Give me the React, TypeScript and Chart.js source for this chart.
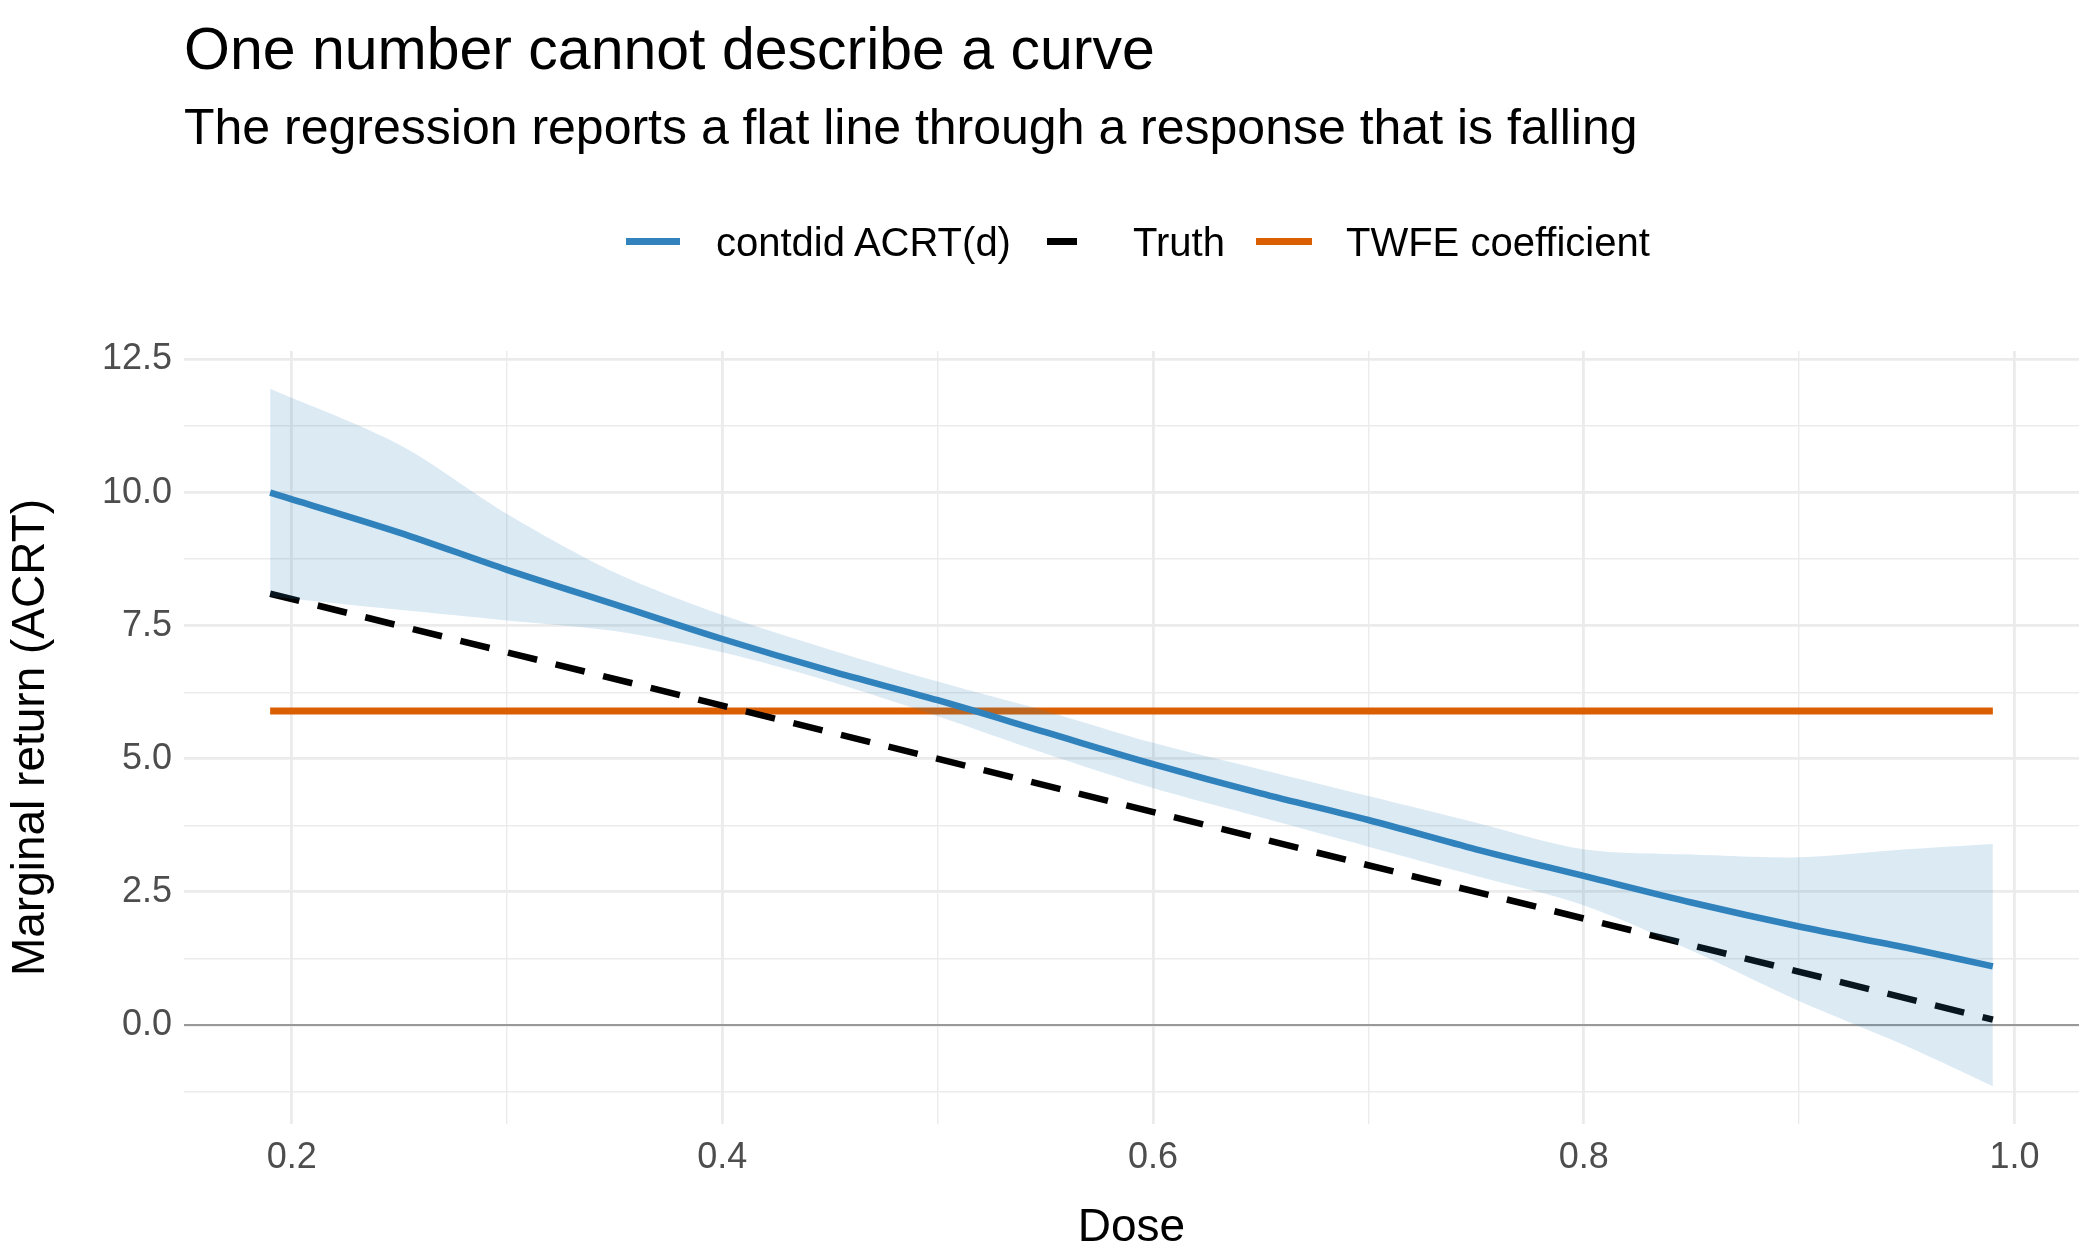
import React, { useEffect, useRef } from "react";
import { Chart, registerables } from "chart.js";
Chart.register(...registerables);

const dose = [0.19, 0.25, 0.3, 0.35, 0.4, 0.45, 0.5, 0.55, 0.6, 0.65, 0.7, 0.75, 0.8, 0.85, 0.9, 0.95, 0.99];
const acrt = [10.0, 9.25, 8.55, 7.9, 7.25, 6.65, 6.1, 5.5, 4.9, 4.35, 3.85, 3.3, 2.8, 2.3, 1.85, 1.45, 1.1];
const upper = [11.95, 10.9, 9.6, 8.5, 7.7, 7.05, 6.45, 5.9, 5.3, 4.8, 4.3, 3.8, 3.3, 3.2, 3.15, 3.3, 3.4];
const lower = [8.05, 7.8, 7.6, 7.4, 7.0, 6.45, 5.8, 5.1, 4.45, 3.9, 3.35, 2.8, 2.25, 1.4, 0.45, -0.4, -1.15];
const truthDose = [0.19, 0.99];
const truth = [8.1, 0.1];
const twfeDose = [0.19, 0.99];
const twfe = [5.9, 5.9];
const xTicks = [0.2, 0.3, 0.4, 0.5, 0.6, 0.7, 0.8, 0.9, 1.0];
const yTicks = [-1.25, 0, 1.25, 2.5, 3.75, 5, 6.25, 7.5, 8.75, 10, 11.25, 12.5];

const F = "'Liberation Sans', Arial, sans-serif";

export default function App() {
  const ref = useRef<HTMLCanvasElement>(null);
  useEffect(() => {
    const pts = (xs: number[], ys: number[]) => xs.map((x, i) => ({ x, y: ys[i] }));
    const isMajorX = (v: number) => Math.abs(v * 5 - Math.round(v * 5)) < 1e-6;
    const isMajorY = (v: number) => Math.abs(v / 2.5 - Math.round(v / 2.5)) < 1e-6;
    const chart = new Chart(ref.current!, {
      type: "line",
      data: {
        datasets: [
          { data: pts(dose, upper), borderWidth: 0, pointRadius: 0, fill: false, tension: 0.3 } as any,
          { data: pts(dose, lower), borderWidth: 0, pointRadius: 0, fill: "-1", backgroundColor: "rgba(49,130,189,0.17)", tension: 0.3 },
          { data: [{ x: 0.15, y: 0 }, { x: 1.03, y: 0 }], borderColor: "#999999", borderWidth: 2, pointRadius: 0 },
          { data: pts(dose, acrt), borderColor: "#3182bd", borderWidth: 6.5, pointRadius: 0, tension: 0.3 },
          { data: pts(truthDose, truth), borderColor: "#000000", borderWidth: 6.5, borderDash: [30, 19], pointRadius: 0 },
          { data: pts(twfeDose, twfe), borderColor: "#d95f02", borderWidth: 7, pointRadius: 0 },
        ],
      },
      options: {
        animation: false,
        responsive: false,
        layout: { padding: { top: 351, right: 21, left: 0, bottom: 0 } },
        plugins: { legend: { display: false }, tooltip: { enabled: false } },
        scales: {
          x: {
            type: "linear", min: 0.15, max: 1.03,
            afterBuildTicks: (s: any) => { s.ticks = xTicks.map((v) => ({ value: v })); },
            afterFit: (s: any) => { s.height = 136; },
            border: { display: false },
            grid: {
              color: "#ebebeb",
              lineWidth: (c: any) => (isMajorX(c.tick.value) ? 2.8 : 1.4),
              drawTicks: false,
            },
            ticks: {
              padding: 12, color: "#4d4d4d", font: { family: F, size: 36 },
              callback: (v: any) => (isMajorX(v) ? Number(v).toFixed(1) : ""),
              maxRotation: 0, autoSkip: false,
            },
            title: { display: true, text: "Dose", color: "#000", font: { family: F, size: 46 }, padding: { top: 4 } },
          },
          y: {
            type: "linear", min: -1.86, max: 12.66,
            afterBuildTicks: (s: any) => { s.ticks = yTicks.map((v) => ({ value: v })); },
            afterFit: (s: any) => { s.width = 184; },
            border: { display: false },
            grid: {
              color: "#ebebeb",
              lineWidth: (c: any) => (isMajorY(c.tick.value) ? 2.8 : 1.4),
              drawTicks: false,
            },
            ticks: {
              padding: 12, color: "#4d4d4d", font: { family: F, size: 36 },
              callback: (v: any) => (isMajorY(v) ? Number(v).toFixed(1) : ""),
              autoSkip: false,
            },
            title: { display: true, text: "Marginal return (ACRT)", color: "#000", font: { family: F, size: 46 }, padding: { bottom: 4 } },
          },
        },
      },
    });
    return () => chart.destroy();
  }, []);

  const txt = (s: React.CSSProperties): React.CSSProperties => ({ position: "absolute", fontFamily: F, whiteSpace: "nowrap", lineHeight: 1, ...s });
  return (
    <div style={{ position: "fixed", left: 0, top: 0, width: 2100, height: 1260, background: "#fff" }}>
      <canvas ref={ref} width={2100} height={1260} style={{ position: "absolute", left: 0, top: 0, width: 2100, height: 1260 }} />
      <div style={txt({ left: 184, top: 20, fontSize: 59, color: "#000" })}>One number cannot describe a curve</div>
      <div style={txt({ left: 184, top: 102, fontSize: 50, color: "#000" })}>The regression reports a flat line through a response that is falling</div>
      <div style={txt({ left: 626, top: 238, width: 54, height: 7, background: "#3182bd" })} />
      <div style={txt({ left: 716, top: 222, fontSize: 40, color: "#000" })}>contdid ACRT(d)</div>
      <div style={txt({ left: 1047, top: 238, width: 30, height: 7, background: "#000" })} />
      <div style={txt({ left: 1133, top: 222, fontSize: 40, color: "#000" })}>Truth</div>
      <div style={txt({ left: 1256, top: 238, width: 56, height: 7, background: "#d95f02" })} />
      <div style={txt({ left: 1346, top: 222, fontSize: 40, color: "#000" })}>TWFE coefficient</div>
    </div>
  );
}
